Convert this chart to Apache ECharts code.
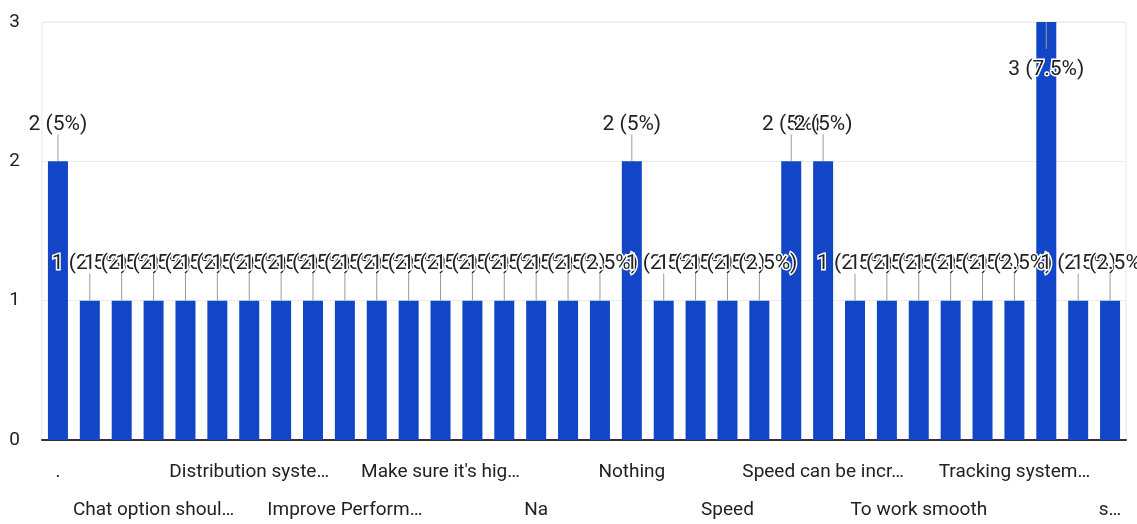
<!DOCTYPE html>
<html>
<head>
<meta charset="utf-8">
<script src="https://cdn.jsdelivr.net/npm/echarts@6/dist/echarts.min.js"></script>
<style>
  html, body { margin: 0; padding: 0; background: #fff; }
  #chart { width: 1137px; height: 524px; }
</style>
</head>
<body>
<div id="chart"></div>
<script>
// Responses, sorted alphabetically
const categories = [
  ".", "All good", "Better user interface", "Chat option should be available",
  "Customer support", "Delivery updates", "Distribution system should be improved",
  "Easy to use", "Good", "Improve Performance of the app", "Live location",
  "Low data usage", "Make sure it's highly secure", "More features",
  "More payment options", "Na", "No", "No suggestions", "Nothing", "Offline mode",
  "Reduce loading time", "Speed", "Speed and accuracy", "Speed and performance",
  "Speed can be increased", "Stable app", "Support", "To work smooth",
  "Track order status", "Track orders live", "Tracking system should be better",
  "User friendly", "Very good", "smooth and fast"
];
const counts = [
  2, 1, 1, 1, 1, 1, 1, 1, 1, 1, 1, 1, 1, 1, 1, 1, 1, 1, 2, 1,
  1, 1, 1, 2, 2, 1, 1, 1, 1, 1, 1, 3, 1, 1
];
const yTicks = [0, 1, 2, 3];

const total = counts.reduce((a, b) => a + b, 0);
const yMax = yTicks[yTicks.length - 1];
const FONT = 'Roboto, "Liberation Sans", Arial, sans-serif';
const AXIS_FONT_SIZE = 19;
const LABEL_MAX_WIDTH = 162;
const BAR = '#1246c6';

const chart = echarts.init(document.getElementById('chart'), null, { renderer: 'canvas' });

const barData = counts.map(v => {
  const item = { value: v };
  if (v >= yMax) {
    // no room above the top of the axis: put the label inside the bar
    item.label = { position: 'insideTop', distance: 37 };
  }
  return item;
});

// Trim a category name with an ellipsis so it fits the label width
const measureCtx = document.createElement('canvas').getContext('2d');
measureCtx.font = AXIS_FONT_SIZE + 'px ' + FONT;
function fitText(text, maxW) {
  if (measureCtx.measureText(text).width <= maxW) return text;
  let n = text.length;
  while (n > 1 && measureCtx.measureText(text.slice(0, n).trimEnd() + '…').width > maxW) n--;
  return text.slice(0, n).trimEnd() + '…';
}

function shortLabel(val, idx) {
  // the rightmost label is cut short by the chart edge
  if (idx === categories.length - 1) return val.charAt(0) + '…';
  return fitText(val, LABEL_MAX_WIDTH);
}

chart.setOption({
  animation: false,
  backgroundColor: '#fff',
  grid: {
    left: 42, right: 11, top: 22, bottom: 84,
    outerBoundsMode: 'none',
    containLabel: false,
    show: true, borderColor: '#e9e9e9', borderWidth: 1, backgroundColor: 'transparent'
  },
  xAxis: {
    type: 'category',
    data: categories,
    axisTick: { show: false },
    axisLine: { lineStyle: { color: '#333', width: 2 } },
    axisLabel: {
      interval: 2,
      showMinLabel: true,
      showMaxLabel: true,
      hideOverlap: false,
      margin: 13,
      color: '#222',
      fontFamily: FONT,
      fontSize: AXIS_FONT_SIZE,
      lineHeight: 38,
      formatter: (val, idx) => {
        const t = shortLabel(val, idx);
        // alternate labels drop to a second row
        return (idx / 3) % 2 === 1 ? '\n' + t : t;
      }
    }
  },
  yAxis: {
    type: 'value',
    min: 0, max: yMax, interval: 1,
    axisLine: { show: false },
    axisTick: { show: false },
    splitLine: { lineStyle: { color: '#ececec', width: 1 } },
    axisLabel: { color: '#222', fontFamily: FONT, fontSize: AXIS_FONT_SIZE, margin: 22 }
  },
  series: [
    {
      type: 'bar',
      data: barData,
      barWidth: 20,
      itemStyle: { color: BAR },
      label: {
        show: true,
        position: 'top',
        distance: 26,
        color: '#222',
        fontFamily: FONT,
        fontSize: 21,
        textBorderColor: '#fff',
        textBorderWidth: 3,
        formatter: p => p.value + ' (' + (p.value / total * 100) + '%)'
      },
      labelLayout: { hideOverlap: false },
      z: 2
    },
    {
      // leader lines joining each bar top to its label
      type: 'custom',
      data: counts.map((v, i) => [i, v]),
      z: 3,
      silent: true,
      renderItem: (params, api) => {
        const v = api.value(1);
        const p = api.coord([api.value(0), v]);
        const dir = v >= yMax ? 1 : -1;
        return {
          type: 'line',
          shape: { x1: p[0], y1: p[1], x2: p[0], y2: p[1] + dir * 27 },
          style: { stroke: '#9a9a9a', lineWidth: 1 }
        };
      }
    }
  ]
});
</script>
</body>
</html>
